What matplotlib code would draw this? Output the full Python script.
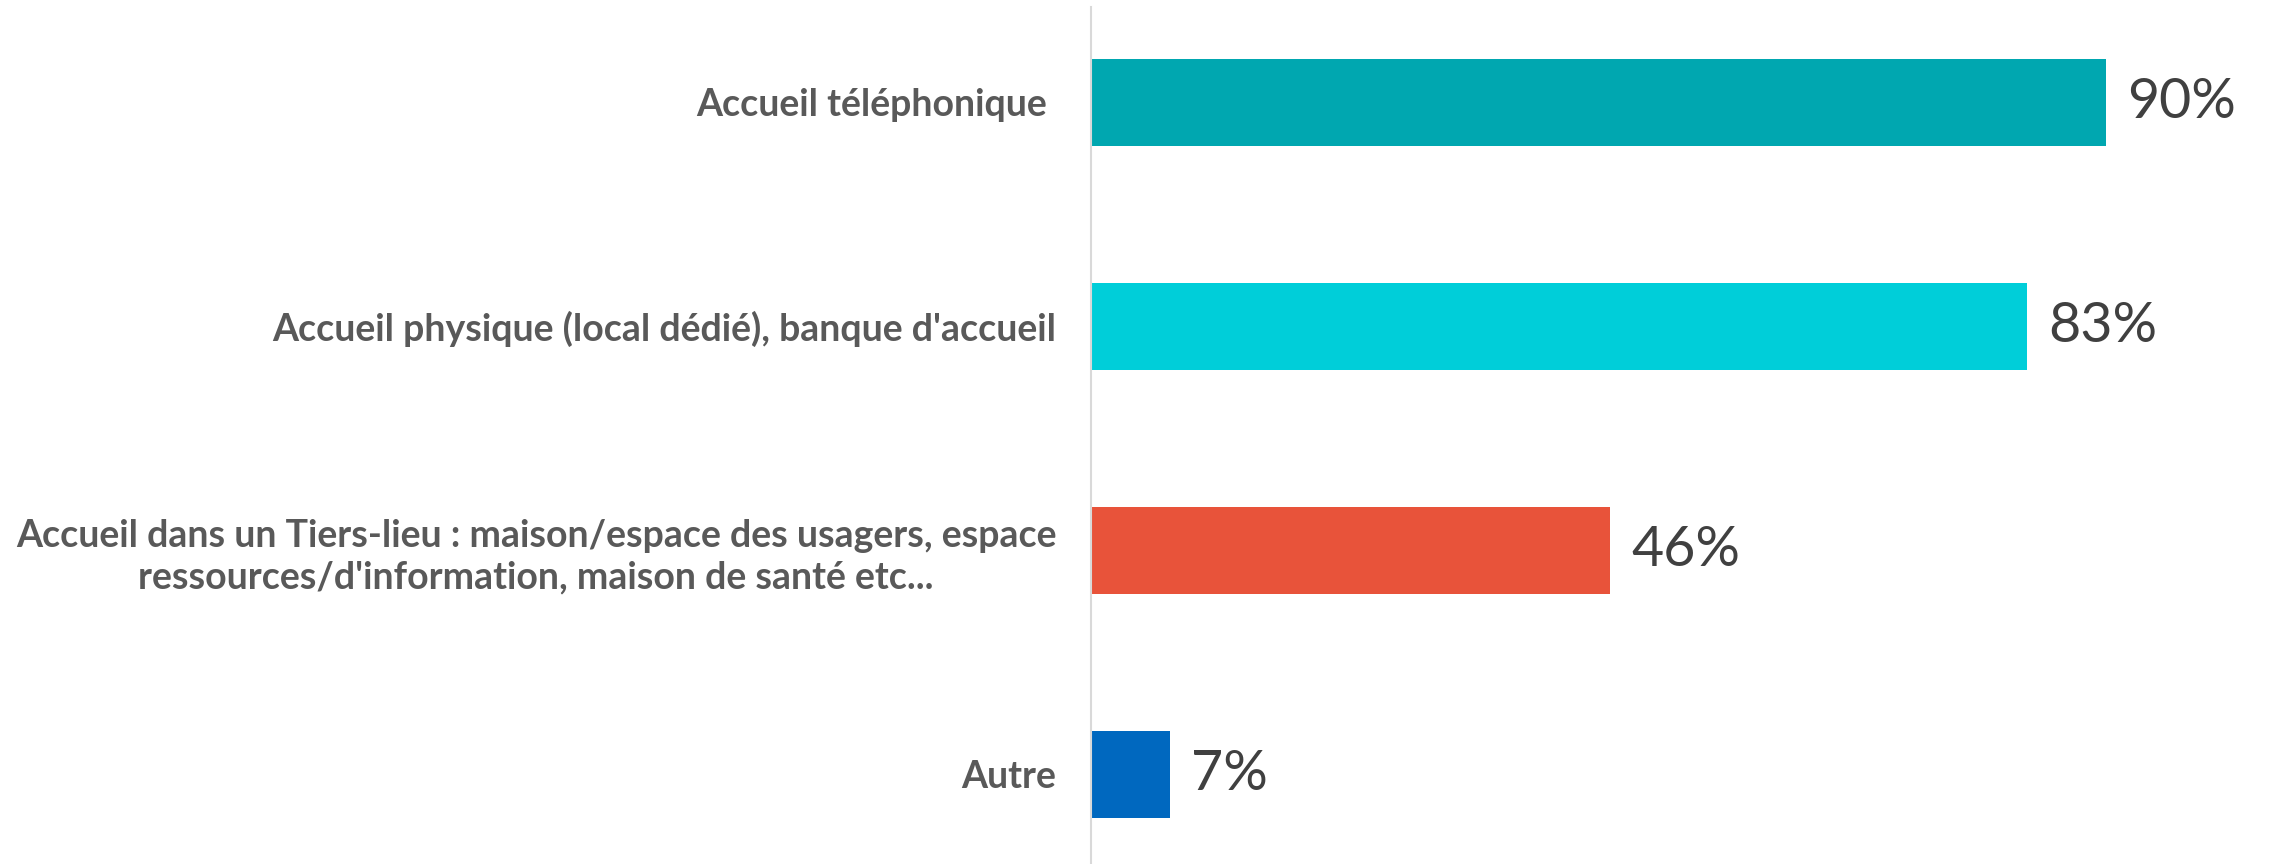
import matplotlib.pyplot as plt
import numpy as np

categories = ["Accueil téléphonique ",
              "Accueil physique (local dédié), banque d'accueil",
              "Accueil dans un Tiers-lieu : maison/espace des usagers, espace\nressources/d'information, maison de santé etc...",
              "Autre"]
values = [90, 83, 46, 7]
colors = ["#00A7B0", "#00CED9", "#E8533A", "#0068BF"]

plt.rcParams['font.family'] = ['Lato', 'DejaVu Sans']

fig = plt.figure(figsize=(22.74, 8.64), dpi=100)
ax = fig.add_axes([0.4798, 0.0, 0.496, 0.992])

y = np.arange(len(categories))
ax.barh(y, values, height=0.39, color=colors)
ax.set_xlim(0, 100)
ax.set_ylim(3.40, -0.426)

for yi, v in zip(y, values):
    ax.text(v + 1.9, yi, "{}%".format(v), va='center', ha='left',
            fontsize=40, color='#404040')

ax.set_yticks(y)
ax.set_yticklabels(categories, fontsize=27, fontweight='bold', color='#595959',
                   linespacing=1.25)
for lab in ax.get_yticklabels():
    lab.set_multialignment('center')
ax.tick_params(axis='y', length=0, pad=25)
ax.tick_params(axis='x', bottom=False, labelbottom=False)

for s in ['top', 'right', 'bottom']:
    ax.spines[s].set_visible(False)
ax.spines['left'].set_color('#D9D9D9')
ax.spines['left'].set_linewidth(1.5)

fig.savefig('out.png', dpi=100)
